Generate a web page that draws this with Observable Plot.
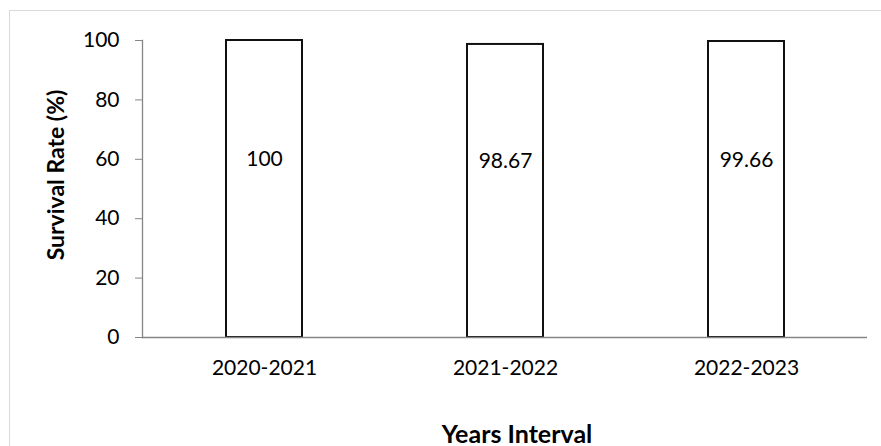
<!DOCTYPE html>
<html>
<head>
<meta charset="utf-8">
<script src="https://cdn.jsdelivr.net/npm/d3@7"></script>
<script src="https://cdn.jsdelivr.net/npm/@observablehq/plot@0.6"></script>
<style>
  html, body { margin: 0; padding: 0; background: #fff; }
  #wrap { position: relative; width: 881px; height: 446px; overflow: hidden; }
  #border { position: absolute; left: 9px; top: 10px; width: 880px; height: 460px; border: 1px solid #d9d9d9; box-sizing: border-box; }
  #chart { position: absolute; left: 0; top: 0; }
</style>
</head>
<body>
<div id="wrap"><div id="border"></div><div id="chart"></div></div>
<script>
const periods = ["2020-2021", "2021-2022", "2022-2023"];
const rates = [100, 98.67, 99.66];
const yTicks = [0, 20, 40, 60, 80, 100];
const yTitle = "Survival Rate (%)";
const xTitle = "Years Interval";

const data = periods.map((p, i) => ({period: p, value: rates[i]}));
const font = "Lato, 'Open Sans', sans-serif";

const chart = Plot.plot({
  width: 881,
  height: 446,
  marginLeft: 142,
  marginRight: 14,
  marginTop: 40,
  marginBottom: 109,
  style: {fontFamily: font, fontSize: "21px", color: "#000", background: "transparent", overflow: "visible"},
  x: {domain: periods, paddingInner: 0.686, paddingOuter: 0.343},
  y: {domain: [0, 100]},
  marks: [
    Plot.axisY({ticks: yTicks, tickSize: 7, tickPadding: 16, stroke: "#868686", fill: "#000", label: null, fontSize: 21}),
    Plot.axisX({tickSize: 0, tickPadding: 23, label: null, fontSize: 21, fill: "#000"}),
    Plot.frame({anchor: "left", stroke: "#868686", strokeWidth: 1.3}),
    Plot.barY(data, {x: "period", y: "value", fill: "white", stroke: "#111", strokeWidth: 2}),
    Plot.ruleY([0], {stroke: "#868686", strokeWidth: 1.5}),
    Plot.text(data, {x: "period", y: d => d.value * 0.6, text: d => String(d.value), fontSize: 21, fill: "#000", lineAnchor: "middle"}),
    Plot.text([yTitle], {text: d => d, frameAnchor: "left", dx: -86, dy: -14, rotate: -90, textAnchor: "middle", fontWeight: "bold", fontSize: 23, fill: "#000", lineAnchor: "middle"}),
    Plot.text([xTitle], {text: d => d, frameAnchor: "bottom", dx: 12, dy: 97, textAnchor: "middle", fontWeight: "bold", fontSize: 25, fill: "#000", lineAnchor: "middle"})
  ]
});
document.getElementById("chart").appendChild(chart);
</script>
</body>
</html>
